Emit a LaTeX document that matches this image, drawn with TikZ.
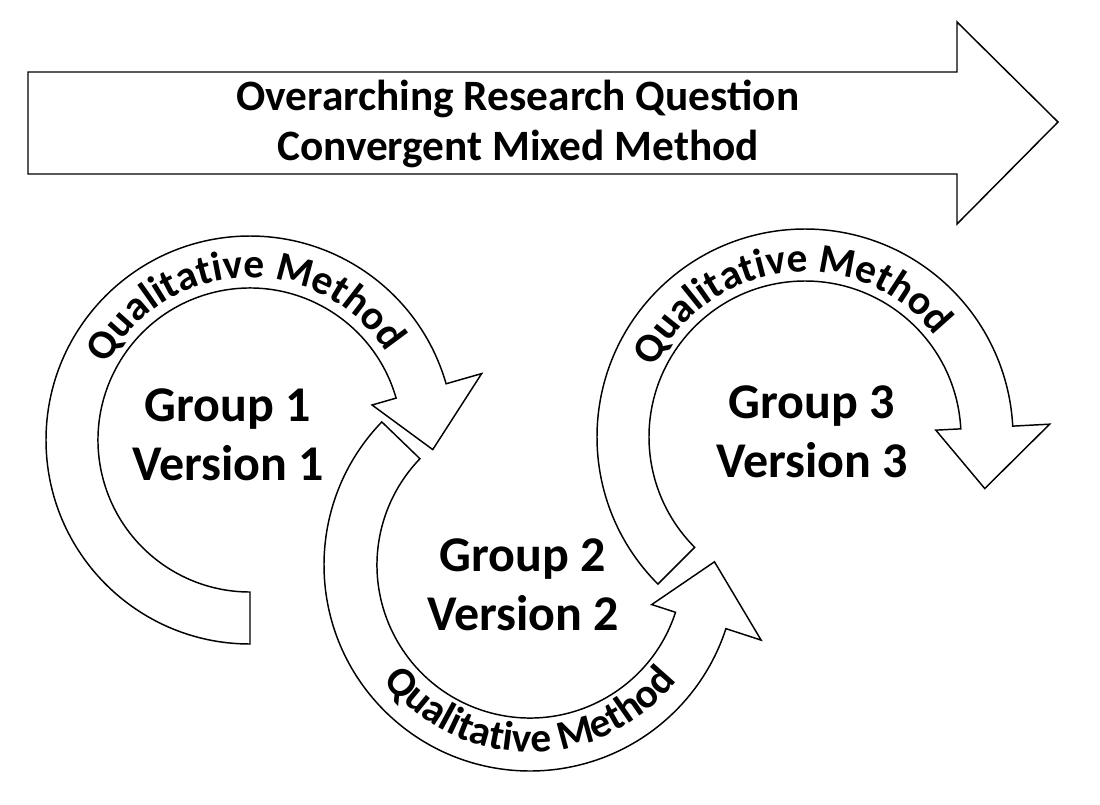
\documentclass[tikz,border=0pt]{standalone}
\usepackage{fontspec}
\setmainfont{Carlito}
\usetikzlibrary{calc,decorations.text}
\newcommand\circarrow[7]{% center, r1, r2, a0, a1, dir
  \draw[arr] ($(#1)+(#4:#3)$) arc[start angle=#4,end angle=#5,radius=#3]
    -- ($(#1)+(#5:#3+37)$) -- ($(#1)+(#5+#6*19:#2/2+#3/2+5)$)
    -- ($(#1)+(#5:#2-25)$) -- ($(#1)+(#5:#2)$)
    arc[start angle=#5,end angle=#4,radius=#2] -- cycle;}
\begin{document}
\begin{tikzpicture}[x=0.75pt,y=0.75pt,
  arr/.style={draw=black,fill=white,line width=1.1pt,line join=miter},
  big/.style={font=\bfseries\fontsize{37.5}{44}\selectfont,align=center},
  arct/.style={decorate,decoration={text along path,text align=center,
     text={|\bfseries\fontsize{31}{36}\selectfont|Qualitative Method}}}]
\useasboundingbox (0,0) rectangle (1100,-804);
\draw[arr] (28,-72) -- (957,-72) -- (957,-22) -- (1058,-122) -- (957,-224) -- (957,-174) -- (28,-174) -- cycle;
\node[font=\bfseries\fontsize{32.5}{38}\selectfont,align=center] (q) at (518,-124) {Overarching Research Question\\Convergent Mixed Method};
\coordinate (c1) at (250,-440);
\coordinate (c2) at (530,-565);
\coordinate (c3) at (805,-437);
\circarrow{c1}{152}{204}{270}{16}{-1}{}
\circarrow{c2}{153}{206}{136}{342}{1}{}
\circarrow{c3}{156}{208}{225}{3}{-1}{}
\path[arct] ($(c1)+(165:162)$) arc[start angle=165,end angle=20,radius=162];
\path[arct] ($(c3)+(168:165)$) arc[start angle=168,end angle=25,radius=165];
\path[arct] ($(c2)+(202:187)$) arc[start angle=202,end angle=338,radius=187];
\node[big] (g1) at (228,-435) {Group 1\\Version 1};
\node[big] (g2) at (523,-585) {Group 2\\Version 2};
\node[big] (g3) at (812,-432) {Group 3\\Version 3};
\end{tikzpicture}
\end{document}
